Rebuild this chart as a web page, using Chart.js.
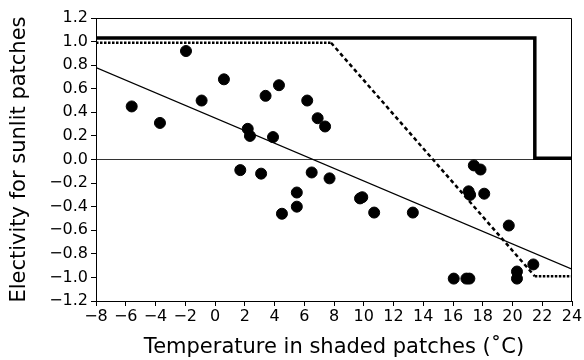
<!DOCTYPE html>
<html>
<head>
<meta charset="utf-8">
<script src="https://cdn.jsdelivr.net/npm/chart.js@4.4.1/dist/chart.umd.min.js"></script>
<style>
  html, body { margin: 0; padding: 0; background: #fff; }
  #wrap { width: 584px; height: 360px; }
</style>
</head>
<body>
<div id="wrap"><canvas id="c" width="584" height="360"></canvas></div>
<script>
// Observations: temperature in shaded patches (°C) vs electivity for sunlit patches
const tempShaded = [-5.6, -3.7, -1.95, -0.9, 0.6, 2.2, 2.35, 3.4, 4.3, 3.9, 6.2, 6.9, 7.4,
  1.7, 3.1, 6.5, 7.7, 5.5, 5.5, 4.5, 9.75, 9.9, 10.7, 13.3,
  17.4, 17.85, 17.05, 17.15, 18.1, 19.75, 16.05, 16.9, 17.1, 20.3, 20.3, 21.4];
const electivity = [0.45, 0.31, 0.92, 0.5, 0.68, 0.26, 0.2, 0.54, 0.63, 0.19, 0.5, 0.35, 0.28,
  -0.09, -0.12, -0.11, -0.16, -0.28, -0.4, -0.46, -0.33, -0.32, -0.45, -0.45,
  -0.05, -0.085, -0.27, -0.3, -0.29, -0.56, -1.01, -1.01, -1.01, -0.95, -1.01, -0.89];

// Regression line
const regX = [-8, 24];
const regY = [0.78, -0.93];
// Thick solid prediction line
const solidX = [-8, 21.5, 21.5, 24];
const solidY = [1.03, 1.03, 0.01, 0.01];
// Dotted prediction line
const dottedX = [-8, 7.8, 21.5, 24];
const dottedY = [0.99, 0.99, -0.99, -0.99];

// Axis ticks
const xTicks = [-8, -6, -4, -2, 0, 2, 4, 6, 8, 10, 12, 14, 16, 18, 20, 22, 24];
const yTicks = [-1.2, -1.0, -0.8, -0.6, -0.4, -0.2, 0.0, 0.2, 0.4, 0.6, 0.8, 1.0, 1.2];

const zip = (xs, ys) => xs.map((x, i) => ({ x: x, y: ys[i] }));
const fmtMinus = s => s.replace('-', '\u2212');

const FONT = '"DejaVu Sans", "Liberation Sans", Arial, sans-serif';

const framePlugin = {
  id: 'frame',
  afterDatasetsDraw(chart) {
    const a = chart.chartArea, ctx = chart.ctx;
    ctx.save();
    ctx.strokeStyle = '#000';
    ctx.lineWidth = 1;
    ctx.beginPath();
    ctx.moveTo(a.left, a.top + 0.5);
    ctx.lineTo(a.right - 0.5, a.top + 0.5);
    ctx.lineTo(a.right - 0.5, a.bottom);
    ctx.stroke();
    ctx.restore();
  }
};

new Chart(document.getElementById('c'), {
  type: 'scatter',
  data: {
    datasets: [
      {
        label: 'Observed',
        data: zip(tempShaded, electivity),
        backgroundColor: '#000',
        borderColor: '#000',
        pointRadius: 5.5,
        showLine: false
      },
      {
        label: 'Regression',
        data: zip(regX, regY),
        showLine: true,
        borderColor: '#000',
        borderWidth: 1.3,
        pointRadius: 0
      },
      {
        label: 'Prediction (solid)',
        data: zip(solidX, solidY),
        showLine: true,
        borderColor: '#000',
        borderWidth: 3.5,
        pointRadius: 0,
        borderJoinStyle: 'miter'
      },
      {
        label: 'Prediction (dotted)',
        data: zip(dottedX, dottedY),
        showLine: true,
        borderColor: '#000',
        borderWidth: 2.5,
        pointRadius: 0,
        segment: {
          borderDash: ctx => ctx.p0DataIndex === 1 ? [4, 3] : [2.5, 1.5]
        }
      }
    ]
  },
  options: {
    responsive: false,
    animation: false,
    layout: { padding: { top: 18, right: 12, left: 0, bottom: 0 } },
    plugins: { legend: { display: false }, tooltip: { enabled: false } },
    scales: {
      x: {
        type: 'linear',
        min: -8, max: 24,
        afterBuildTicks: s => { s.ticks = xTicks.map(v => ({ value: v })); },
        afterFit: s => { s.height = 59; },
        border: { display: true, color: '#000', width: 1 },
        grid: { drawOnChartArea: false, drawTicks: true, tickLength: 5, color: '#000', tickColor: '#000' },
        ticks: {
          color: '#000', padding: 1, maxRotation: 0, autoSkip: false,
          font: { family: FONT, size: 16 },
          callback: v => fmtMinus(String(v))
        },
        title: {
          display: true, text: 'Temperature in shaded patches (\u02DAC)',
          color: '#000', font: { family: FONT, size: 21 }, padding: { top: 2, bottom: 0 }
        }
      },
      y: {
        type: 'linear',
        min: -1.2, max: 1.2,
        afterBuildTicks: s => { s.ticks = yTicks.map(v => ({ value: v })); },
        afterFit: s => { s.width = 96; },
        border: { display: true, color: '#000', width: 1 },
        grid: {
          drawOnChartArea: true, drawTicks: true, tickLength: 5,
          color: c => (c.tick && Math.abs(c.tick.value) < 1e-9) ? '#333' : 'rgba(0,0,0,0)',
          tickColor: '#000', lineWidth: 1
        },
        ticks: {
          color: '#000', padding: 3, autoSkip: false,
          font: { family: FONT, size: 16 },
          callback: v => Math.abs(v) < 1e-9 ? '0.0' : fmtMinus(v.toFixed(1))
        },
        title: {
          display: true, text: 'Electivity for sunlit patches',
          color: '#000', font: { family: FONT, size: 21 }, padding: { top: 7, bottom: 0 }
        }
      }
    }
  },
  plugins: [framePlugin]
});
</script>
</body>
</html>
